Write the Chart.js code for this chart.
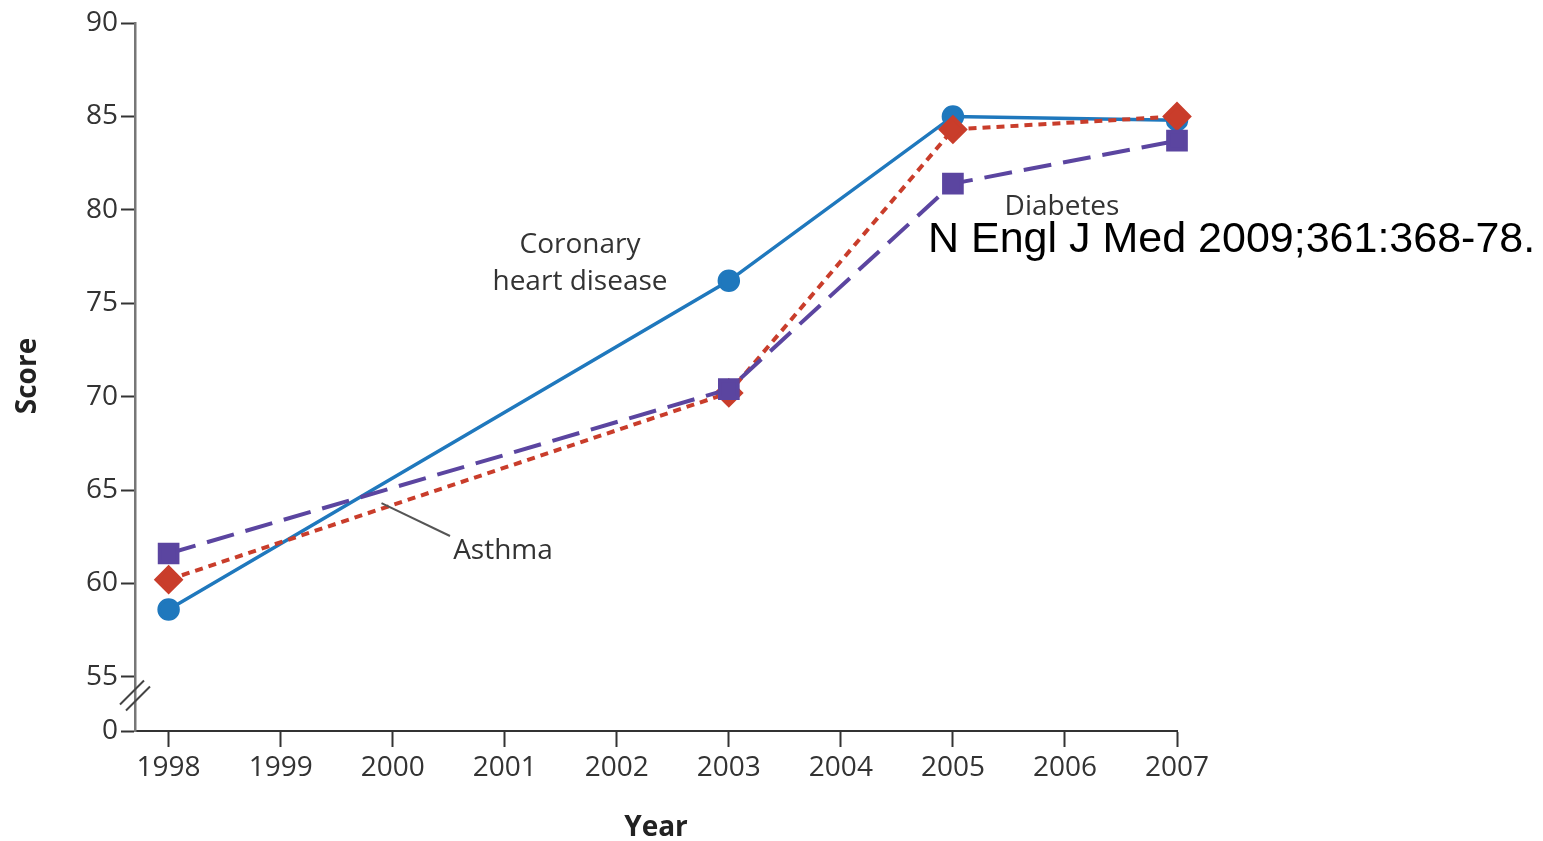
<!DOCTYPE html>
<html>
<head>
<meta charset="utf-8">
<script src="https://cdn.jsdelivr.net/npm/chart.js@4/dist/chart.umd.min.js"></script>
<style>
  html, body { margin: 0; padding: 0; background: #fff; }
  #wrap { width: 1543px; height: 841px; }
</style>
</head>
<body>
<div id="wrap"><canvas id="scoreChart" width="1543" height="841"></canvas></div>
<script>
// Data
const years = [1998, 2003, 2005, 2007];
const coronary = [58.6, 76.2, 85.0, 84.8];
const diabetes = [61.6, 70.4, 81.4, 83.7];
const asthma = [60.2, 70.2, 84.3, 85.0];
const xTicks = [1998, 1999, 2000, 2001, 2002, 2003, 2004, 2005, 2006, 2007];
// bottom of the broken axis stands for 0
const yBreakBase = 52.1;
const yTicks = [yBreakBase, 55, 60, 65, 70, 75, 80, 85, 90];

const tickFont = { family: 'Open Sans', size: 28 };
const textColor = '#333';

function toPoints(values) {
    return years.map((yr, i) => ({ x: yr, y: values[i] }));
}

// Labels, break marks and the citation
const decorPlugin = {
    id: 'decor',
    afterDraw(chart) {
        const ctx = chart.ctx;
        const x = chart.scales.x;
        const y = chart.scales.y;
        ctx.save();

        // axis break
        const ax = x.left;
        const by = y.getPixelForValue(54);
        ctx.strokeStyle = '#444';
        ctx.lineWidth = 2;
        [[-3, -3], [3, 3]].forEach(([dx, dy]) => {
            ctx.beginPath();
            ctx.moveTo(ax - 12 + dx, by + 12 + dy);
            ctx.lineTo(ax + 12 + dx, by - 12 + dy);
            ctx.stroke();
        });

        // series labels
        ctx.fillStyle = textColor;
        ctx.font = '28px "Open Sans"';
        ctx.textAlign = 'center';
        ctx.textBaseline = 'middle';
        ctx.fillText('Coronary', 580, 245);
        ctx.fillText('heart disease', 580, 282);
        ctx.fillText('Diabetes', 1062, 207);
        ctx.fillText('Asthma', 503, 551);

        // leader line for Asthma
        ctx.strokeStyle = '#555';
        ctx.lineWidth = 2;
        ctx.beginPath();
        ctx.moveTo(x.getPixelForValue(1999.9), y.getPixelForValue(64.3));
        ctx.lineTo(450, 536);
        ctx.stroke();

        // axis titles
        ctx.font = 'bold 28px "Open Sans"';
        ctx.fillStyle = '#222';
        ctx.fillText('Year', 656, 828);
        ctx.save();
        ctx.translate(28, 376);
        ctx.rotate(-Math.PI / 2);
        ctx.fillText('Score', 0, 0);
        ctx.restore();

        // citation
        ctx.font = '43px "Liberation Sans"';
        ctx.fillStyle = '#000';
        ctx.textAlign = 'left';
        ctx.textBaseline = 'alphabetic';
        ctx.fillText('N Engl J Med 2009;361:368-78.', 928, 252);

        ctx.restore();
    }
};

// first dataset ends up on top
new Chart(document.getElementById('scoreChart'), {
    type: 'line',
    data: {
        datasets: [{
            label: 'Diabetes',
            data: toPoints(diabetes),
            borderColor: '#5b45a0',
            backgroundColor: '#5b45a0',
            borderWidth: 4,
            borderDash: [28, 12],
            pointStyle: 'rect',
            pointRadius: 12.5,
            tension: 0,
            clip: false
        },
        {
            label: 'Asthma',
            data: toPoints(asthma),
            borderColor: '#c93d2b',
            backgroundColor: '#c93d2b',
            borderWidth: 4,
            borderDash: [8, 6],
            pointStyle: 'rectRot',
            pointRadius: 12,
            tension: 0,
            clip: false
        },
        {
            label: 'Coronary heart disease',
            data: toPoints(coronary),
            borderColor: '#1f78bd',
            backgroundColor: '#1f78bd',
            borderWidth: 3.5,
            pointStyle: 'circle',
            pointRadius: 9.5,
            tension: 0,
            clip: false
        }]
    },
    options: {
        responsive: false,
        animation: false,
        layout: {
            padding: { top: 23, right: 366, left: 0, bottom: 0 }
        },
        plugins: {
            legend: { display: false },
            tooltip: { enabled: false }
        },
        scales: {
            x: {
                type: 'linear',
                min: 1997.7,
                max: 2007,
                afterBuildTicks: (scale) => {
                    scale.ticks = xTicks.map(v => ({ value: v }));
                },
                afterFit: (scale) => { scale.height = 110; },
                ticks: {
                    font: tickFont,
                    color: textColor,
                    padding: 4,
                    maxRotation: 0,
                    callback: (v) => String(v)
                },
                grid: {
                    drawOnChartArea: false,
                    tickLength: 16,
                    tickWidth: 2,
                    tickColor: '#333'
                },
                border: { color: '#333', width: 2 }
            },
            y: {
                min: yBreakBase,
                max: 90,
                afterBuildTicks: (scale) => {
                    scale.ticks = yTicks.map(v => ({ value: v }));
                },
                afterFit: (scale) => { scale.width = 135; },
                ticks: {
                    font: tickFont,
                    color: textColor,
                    padding: 3,
                    callback: (v) => (v < 53 ? '0' : String(v))
                },
                grid: {
                    drawOnChartArea: false,
                    tickLength: 14,
                    tickWidth: 2,
                    tickColor: '#333'
                },
                border: { color: '#777', width: 2.5 }
            }
        }
    },
    plugins: [decorPlugin]
});
</script>
</body>
</html>
